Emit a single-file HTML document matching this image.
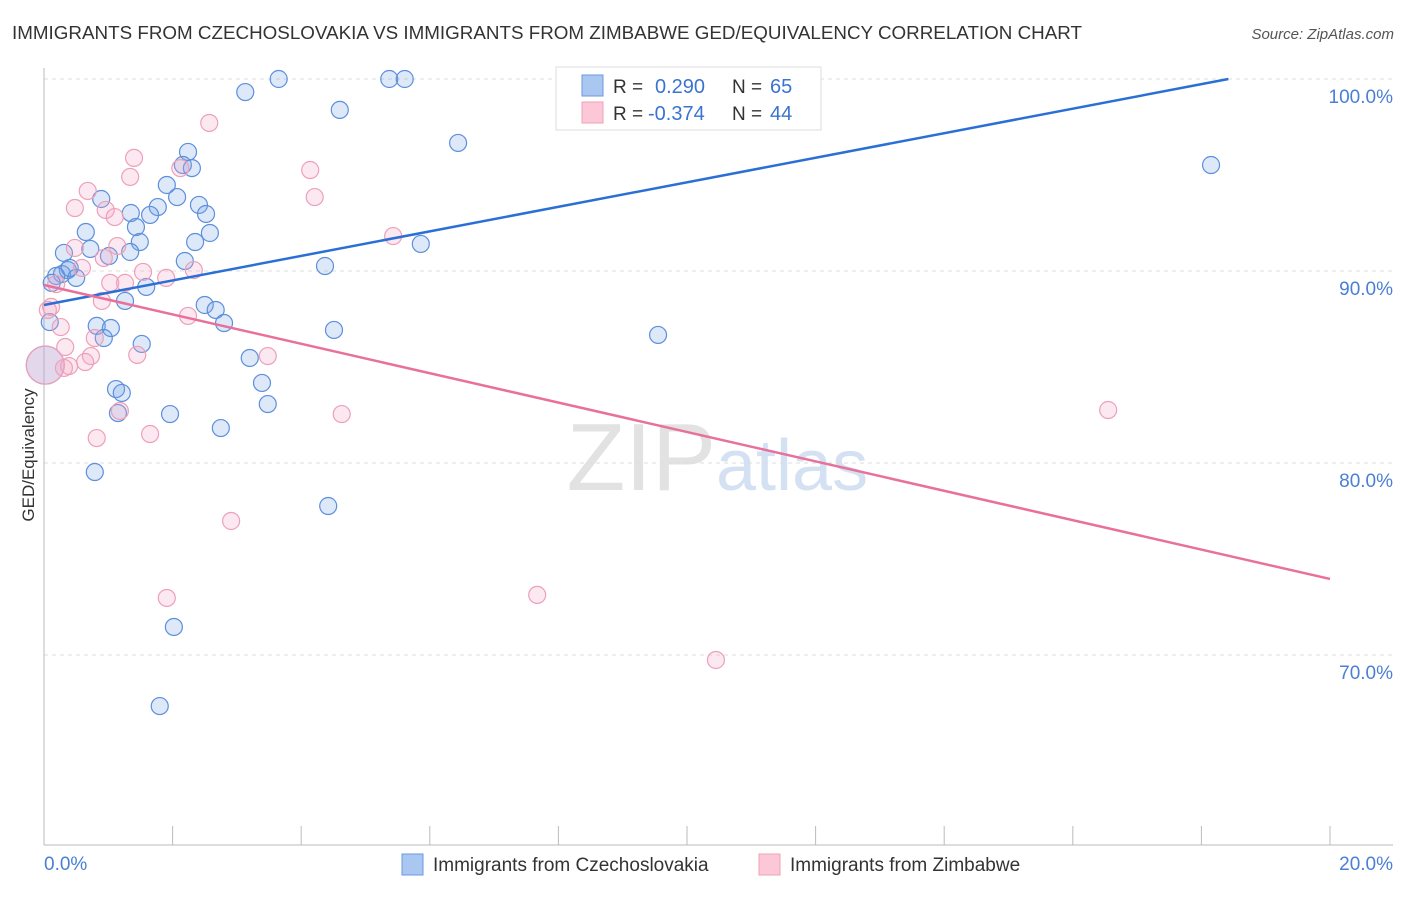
<!DOCTYPE html>
<html><head><meta charset="utf-8"><style>
body{margin:0;background:#fff;font-family:"Liberation Sans",sans-serif;}
svg text{font-family:"Liberation Sans",sans-serif;}
</style></head><body>
<svg width="1406" height="892">
<text x="12" y="39" font-size="18" fill="#333" textLength="1070" lengthAdjust="spacingAndGlyphs">IMMIGRANTS FROM CZECHOSLOVAKIA VS IMMIGRANTS FROM ZIMBABWE GED/EQUIVALENCY CORRELATION CHART</text>
<text x="1394" y="39" font-size="15" fill="#555" font-style="italic" text-anchor="end">Source: ZipAtlas.com</text>
<text transform="translate(34,455) rotate(-90)" font-size="17" fill="#333" text-anchor="middle">GED/Equivalency</text>
<text x="716" y="490" font-size="96" fill="#e2e2e2" font-family="Liberation Serif" text-anchor="end">ZIP</text>
<text x="716" y="490" font-size="72" fill="#d4e1f3">atlas</text>
<g id="grid"></g><g id="axes"></g><g id="pts"></g><g id="lines"></g>
<g>
<rect x="556" y="67" width="265" height="63" fill="#fff" stroke="#ddd"/>
<rect x="582" y="75" width="21" height="21" fill="#a9c7f0" stroke="#6b9ae0"/>
<rect x="582" y="102" width="21" height="21" fill="#fcc8d8" stroke="#f0a0b8"/>
<text x="613" y="93" font-size="19" fill="#333">R = </text><text x="655" y="93" font-size="20" fill="#3a74d0">0.290</text>
<text x="732" y="93" font-size="19" fill="#333">N = </text><text x="770" y="93" font-size="20" fill="#3a74d0">65</text>
<text x="613" y="120" font-size="19" fill="#333">R = </text><text x="648" y="120" font-size="20" fill="#3a74d0">-0.374</text>
<text x="732" y="120" font-size="19" fill="#333">N = </text><text x="770" y="120" font-size="20" fill="#3a74d0">44</text>
</g>
<g>
<rect x="402" y="854" width="21" height="21" fill="#a9c7f0" stroke="#6b9ae0"/>
<text x="433" y="871" font-size="19" fill="#333">Immigrants from Czechoslovakia</text>
<rect x="759" y="854" width="21" height="21" fill="#fcc8d8" stroke="#f0a0b8"/>
<text x="790" y="871" font-size="19" fill="#333">Immigrants from Zimbabwe</text>
</g>
</svg>
<script>
const yTicks=[70,80,90,100];
const xTickLabels=["0.0%","20.0%"];
const blueX=[3.13,3.65,5.37,5.61,4.60,6.44,2.24,2.16,2.30,1.91,2.07,2.41,1.77,2.52,1.65,1.35,0.89,1.43,2.58,0.65,1.49,2.35,0.31,0.72,1.34,1.01,2.19,4.37,5.86,0.37,0.28,0.50,0.19,0.12,1.59,1.26,2.50,2.67,2.80,0.82,1.04,0.93,4.51,1.52,9.55,3.20,3.39,1.12,1.21,3.48,1.15,1.96,2.75,0.79,4.42,2.02,1.80,18.15,8.15,8.49,0.09,0.02,0.40];
const blueY=[99.32,100,100,100,98.39,96.67,96.20,95.52,95.36,94.48,93.85,93.44,93.33,92.97,92.92,93.02,93.75,92.29,91.98,92.03,91.51,91.51,90.94,91.15,90.99,90.78,90.52,90.26,91.41,90.05,89.84,89.64,89.74,89.38,89.17,88.44,88.23,87.97,87.29,87.14,87.03,86.51,86.93,86.20,86.67,85.47,84.17,83.85,83.65,83.07,82.60,82.55,81.82,79.53,77.76,71.46,67.34,95.52,100,99.84,87.34,85.10,90.16];
const blueBig=[61];
const pinkX=[2.57,1.40,4.14,1.34,2.12,0.68,4.21,0.48,0.96,1.10,5.43,1.14,0.48,0.93,0.59,1.54,1.90,2.33,1.03,1.26,0.19,0.90,0.11,2.24,0.26,0.79,0.33,1.45,3.48,0.73,0.64,0.39,0.31,1.18,4.63,1.65,0.82,16.55,2.91,1.91,7.67,10.45,0.06,0.02];
const pinkY=[97.71,95.89,95.26,94.90,95.36,94.17,93.85,93.28,93.18,92.81,91.82,91.30,91.20,90.68,90.16,89.95,89.64,90.05,89.38,89.38,89.32,88.44,88.13,87.66,87.08,86.51,86.04,85.63,85.57,85.57,85.26,85.05,84.95,82.71,82.55,81.51,81.30,82.76,76.98,72.97,73.13,69.74,87.97,85.10];
const pinkBig=[43];
const blueTrend=[88.23,0.639];
const pinkTrend=[89.27,-0.7655];
const xs=v=>44+v*64.3, ys=v=>79+(100-v)*19.2;
const NS="http://www.w3.org/2000/svg";
function mk(t,a,p){const e=document.createElementNS(NS,t);for(const k in a)e.setAttribute(k,a[k]);document.getElementById(p).appendChild(e);return e;}
yTicks.forEach(t=>{
 const l=mk('line',{x1:44,x2:1393,y1:ys(t),y2:ys(t),stroke:'#ddd','stroke-dasharray':'4,4'},'grid');
 
 
 const tx=mk('text',{x:1393,y:ys(t)+24,'font-size':19,fill:'#4a7fd4','text-anchor':'end'},'axes');
 tx.textContent=t.toFixed(1)+'%';
 
 
});
let ax=mk('line',{x1:44,x2:44,y1:68,y2:845,stroke:'#bbb'},'axes');


ax=mk('line',{x1:44,x2:1393,y1:845,y2:845,stroke:'#bbb'},'axes');


for(let i=0;i<=10;i++){const tk=mk('line',{x1:xs(i*2),x2:xs(i*2),y1:826,y2:845,stroke:'#bbb'},'axes');
 
 }
[[0,'start'],[20,'end']].forEach((d,i)=>{const tx=mk('text',{x:xs(d[0])+(i?63:0),y:870,'font-size':19,fill:'#4a7fd4','text-anchor':d[1]},'axes');tx.textContent=xTickLabels[i];
 
 });
function pts(X,Y,big,fill,stroke,name){X.forEach((x,i)=>{const b=big.includes(i);
 const c=mk('circle',{cx:xs(x),cy:ys(Y[i]),r:b?19:8.5,fill:fill,stroke:stroke,'stroke-width':1.2},'pts');
 
 });}
pts(blueX,blueY,blueBig,'rgba(120,165,230,0.25)','#5d8fdc','blue-point');
pts(pinkX,pinkY,pinkBig,'rgba(245,165,195,0.25)','#eea0b8','pink-point');
const bx2=(100-blueTrend[0])/blueTrend[1];
let tl=mk('line',{x1:xs(0),y1:ys(blueTrend[0]),x2:xs(bx2),y2:ys(100),stroke:'#2a6fd6','stroke-width':2.5},'lines');


tl=mk('line',{x1:xs(0),y1:ys(pinkTrend[0]),x2:xs(20),y2:ys(pinkTrend[0]+pinkTrend[1]*20),stroke:'#e8709a','stroke-width':2.5},'lines');


</script>
</body></html>
